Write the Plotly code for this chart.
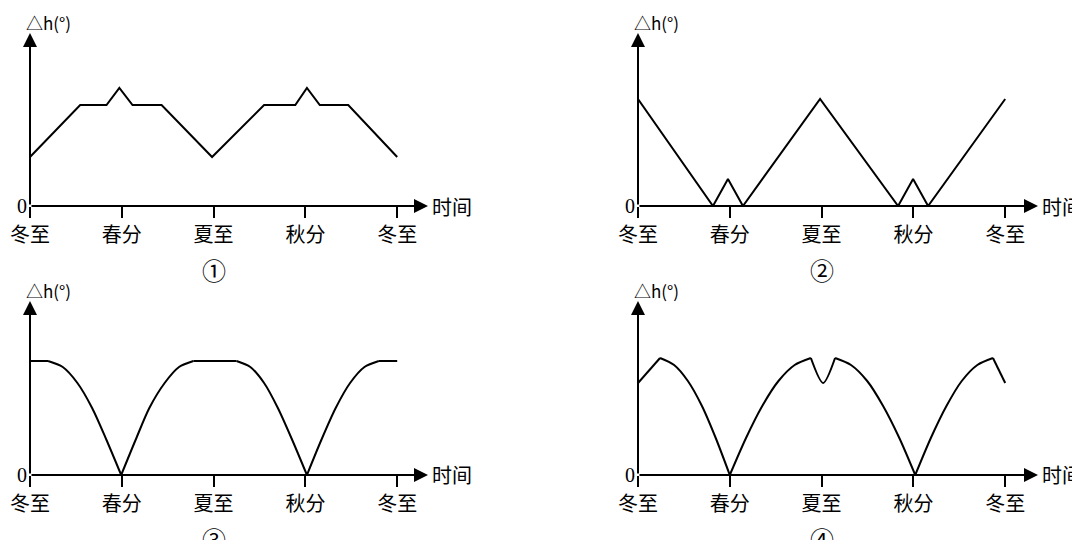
import plotly.graph_objects as go

# x in months after 冬至 (0=冬至, 3=春分, 6=夏至, 9=秋分, 12=冬至); y = Δh (relative units)
tick_vals = [0, 3, 6, 9, 12]
tick_text = ["冬至", "春分", "夏至", "秋分", "冬至"]
panel_labels = ["①", "②", "③", "④"]

p1_x = [0, 1.64, 2.5, 2.92, 3.35, 4.3, 5.95, 7.65, 8.67, 9.05, 9.47, 10.4, 12]
p1_y = [4.9, 10.1, 10.1, 11.8, 10.1, 10.1, 4.9, 10.1, 10.1, 11.8, 10.1, 10.1, 4.9]

p2_x = [0, 2.45, 2.94, 3.43, 5.95, 8.5, 8.99, 9.48, 12]
p2_y = [10.7, 0, 2.7, 0, 10.7, 0, 2.7, 0, 10.7]

# panel 3: arcs (segments listed separately so corners stay sharp)
p3_segments = [
    ([0, 0.59], [11.4, 11.4]),
    ([0.59, 1.07, 1.55, 2.03, 2.5, 2.98], [11.4, 10.8, 9.2, 6.7, 3.5, 0]),
    ([2.98, 3.45, 3.9, 4.4, 4.87, 5.34], [0, 3.5, 6.7, 9.2, 10.8, 11.4]),
    ([5.34, 6.75], [11.4, 11.4]),
    ([6.75, 7.2, 7.65, 8.1, 8.57, 9.05], [11.4, 10.8, 9.2, 6.7, 3.5, 0]),
    ([9.05, 9.52, 9.99, 10.46, 10.93, 11.4], [0, 3.5, 6.7, 9.2, 10.8, 11.4]),
    ([11.4, 12], [11.4, 11.4]),
]

p4_segments = [
    ([0, 0.72], [9.2, 11.7]),
    ([0.72, 1.18, 1.63, 2.09, 2.54, 3.0], [11.7, 11.0, 9.4, 6.9, 3.7, 0]),
    ([3.0, 3.53, 4.06, 4.59, 5.12, 5.65], [0, 3.7, 6.9, 9.4, 11.0, 11.7]),
    ([5.65, 6.05, 6.44], [11.7, 9.2, 11.7]),
    ([6.44, 6.96, 7.49, 8.01, 8.54, 9.06], [11.7, 11.0, 9.4, 6.9, 3.7, 0]),
    ([9.06, 9.57, 10.08, 10.58, 11.09, 11.6], [0, 3.7, 6.9, 9.4, 11.0, 11.7]),
    ([11.6, 12], [11.7, 9.2]),
]

W, H = 1080, 540
panels = [
    dict(ox=22, oy=198, ux=30.6, xend=420, ytop=25),
    dict(ox=630, oy=198, ux=30.6, xend=1030, ytop=25),
    dict(ox=22, oy=467, ux=30.6, xend=420, ytop=293),
    dict(ox=630, oy=467, ux=30.6, xend=1030, ytop=293),
]
UY = 10.0  # px per y unit

fig = go.Figure()
FONT = "Noto Sans CJK SC"
annotations = []

series = [
    [(p1_x, p1_y, "linear")],
    [(p2_x, p2_y, "linear")],
    [(sx, sy, "spline") for sx, sy in p3_segments],
    [(sx, sy, "spline") for sx, sy in p4_segments],
]

for i, p in enumerate(panels):
    n = "" if i == 0 else str(i + 1)
    xr = (p["xend"] - p["ox"]) / p["ux"]
    yr = (p["oy"] - p["ytop"]) / UY
    dom_x = [p["ox"] / W, p["xend"] / W]
    dom_y = [(H - p["oy"]) / H, (H - p["ytop"]) / H]
    fig.layout["xaxis" + n] = dict(domain=dom_x, range=[0, xr], showgrid=False, zeroline=False,
                                   showline=False, tickvals=tick_vals, ticktext=tick_text,
                                   ticks="outside", ticklen=11, tickwidth=2, tickcolor="black",
                                   tickfont=dict(family=FONT, size=20, color="black"),
                                   automargin=False, fixedrange=True, anchor="y" + n)
    fig.layout["yaxis" + n] = dict(domain=dom_y, range=[0, yr], showgrid=False, zeroline=False,
                                   showline=False, showticklabels=False, ticks="",
                                   automargin=False, fixedrange=True, anchor="x" + n)
    for sx, sy, shp in series[i]:
        fig.add_trace(go.Scatter(x=sx, y=sy, mode="lines", line=dict(color="black", width=2, shape=shp,
                                 smoothing=0.8), xaxis="x" + n, yaxis="y" + n, showlegend=False,
                                 hoverinfo="skip", cliponaxis=False))
    xref, yref = "x" + n, "y" + n
    annotations.append(dict(x=xr, y=0, ax=0, ay=0, xref=xref, yref=yref, axref=xref, ayref=yref,
                            showarrow=True, arrowhead=2, arrowsize=1.4, arrowwidth=2, arrowcolor="black", text=""))
    annotations.append(dict(x=0, y=yr, ax=0, ay=0, xref=xref, yref=yref, axref=xref, ayref=yref,
                            showarrow=True, arrowhead=2, arrowsize=1.4, arrowwidth=2, arrowcolor="black", text=""))
    annotations.append(dict(x=xr, y=0, xref=xref, yref=yref, text="时间", showarrow=False,
                            xanchor="left", xshift=2, font=dict(family=FONT, size=20, color="black")))
    annotations.append(dict(x=0, y=0, xref=xref, yref=yref, text="0", showarrow=False,
                            xanchor="right", xshift=-1, font=dict(family="Liberation Serif", size=20, color="black")))
    annotations.append(dict(x=0, y=yr, xref=xref, yref=yref, text="△h(°)", showarrow=False,
                            xanchor="center", yanchor="bottom", xshift=18, yshift=-4,
                            font=dict(family=FONT, size=17, color="black")))
    annotations.append(dict(x=6, y=0, xref=xref, yref=yref, text=panel_labels[i], showarrow=False,
                            yanchor="top", yshift=-44, font=dict(family=FONT, size=24, color="black")))

fig.update_layout(width=W, height=H, margin=dict(l=0, r=0, t=0, b=0), paper_bgcolor="white",
                  plot_bgcolor="white", annotations=annotations, showlegend=False)
fig.write_html("out.html")
